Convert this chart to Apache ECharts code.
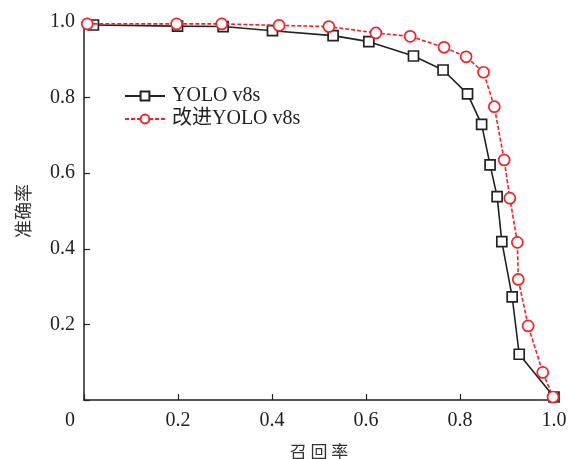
<!DOCTYPE html>
<html><head><meta charset="utf-8">
<script src="https://cdn.jsdelivr.net/npm/echarts@6/dist/echarts.min.js"></script>
<style>html,body{margin:0;padding:0;background:#fff}#c{width:569px;height:459px}</style>
</head><body><div id="c"></div>
<script>
const seriesNames = ['YOLO v8s', '改进YOLO v8s'];
const baseRecall = [0.020, 0.199, 0.296, 0.401, 0.530, 0.606, 0.701, 0.764, 0.816, 0.846, 0.864, 0.879, 0.889, 0.911, 0.926, 1.0];
const basePrecision = [0.992, 0.989, 0.988, 0.977, 0.964, 0.948, 0.910, 0.873, 0.810, 0.729, 0.622, 0.538, 0.419, 0.273, 0.121, 0.008];
const impRecall = [0.007, 0.197, 0.293, 0.415, 0.521, 0.621, 0.694, 0.766, 0.813, 0.850, 0.873, 0.894, 0.906, 0.922, 0.924, 0.945, 0.976, 0.998];
const impPrecision = [0.995, 0.995, 0.995, 0.991, 0.988, 0.971, 0.962, 0.933, 0.908, 0.867, 0.776, 0.635, 0.534, 0.417, 0.319, 0.196, 0.073, 0.008];
const xName = '召 回 率';
const yName = '准确率';
const originLabel = '0';

const pair = (xs, ys) => xs.map((x, i) => [x, ys[i]]);
const serif = '"Liberation Serif","DejaVu Serif",serif';
const cjk = '"Noto Sans CJK SC",sans-serif';
const fmt = v => v === 0 ? '' : v.toFixed(1);

const chart = echarts.init(document.getElementById('c'), null, {renderer: 'canvas'});
chart.setOption({
  animation: false,
  backgroundColor: '#fff',
  grid: {left: 84, right: 15, top: 22, bottom: 59, containLabel: false, outerBoundsMode: 'none'},
  legend: {
    left: 119, top: 81, orient: 'vertical', itemWidth: 40, itemHeight: 11, itemGap: 3,
    textStyle: {fontFamily: serif + ',' + cjk, fontSize: 20, color: '#222', padding: [0, 0, 0, 2]},
    data: seriesNames
  },
  xAxis: {
    type: 'value', min: 0, max: 1, interval: 0.2,
    name: xName, nameLocation: 'middle', nameGap: 43,
    nameTextStyle: {fontFamily: cjk, fontSize: 17, color: '#333'},
    axisLine: {lineStyle: {color: '#222', width: 1.5}},
    axisTick: {inside: true, length: 6, lineStyle: {color: '#222', width: 1.2}},
    axisLabel: {formatter: fmt, margin: 11, fontFamily: serif, fontSize: 20, color: '#222'},
    splitLine: {show: false}
  },
  yAxis: {
    type: 'value', min: 0, max: 1, interval: 0.2,
    name: yName, nameLocation: 'middle', nameGap: 52,
    nameTextStyle: {fontFamily: cjk, fontSize: 18, color: '#333'},
    axisLine: {show: true, lineStyle: {color: '#222', width: 1.5}},
    axisTick: {show: true, inside: true, length: 6, lineStyle: {color: '#222', width: 1.2}},
    axisLabel: {formatter: fmt, margin: 9, fontFamily: serif, fontSize: 20, color: '#222'},
    splitLine: {show: false}
  },
  graphic: [{
    type: 'text', left: 65, top: 411,
    style: {text: originLabel, font: '20px ' + serif, fill: '#222'}
  }],
  series: [
    {
      name: seriesNames[0], type: 'line', data: pair(baseRecall, basePrecision),
      symbol: 'rect', symbolSize: 10, showAllSymbol: true,
      lineStyle: {color: '#222', width: 1.6},
      itemStyle: {color: '#fff', borderColor: '#222', borderWidth: 1.7},
      z: 2
    },
    {
      name: seriesNames[1], type: 'line', data: pair(impRecall, impPrecision),
      symbol: 'circle', symbolSize: 11, showAllSymbol: true,
      lineStyle: {color: '#ee2228', width: 1.6, type: [4, 2]},
      itemStyle: {color: '#fff', borderColor: '#ee2228', borderWidth: 1.7},
      z: 3
    }
  ]
});
</script></body></html>
